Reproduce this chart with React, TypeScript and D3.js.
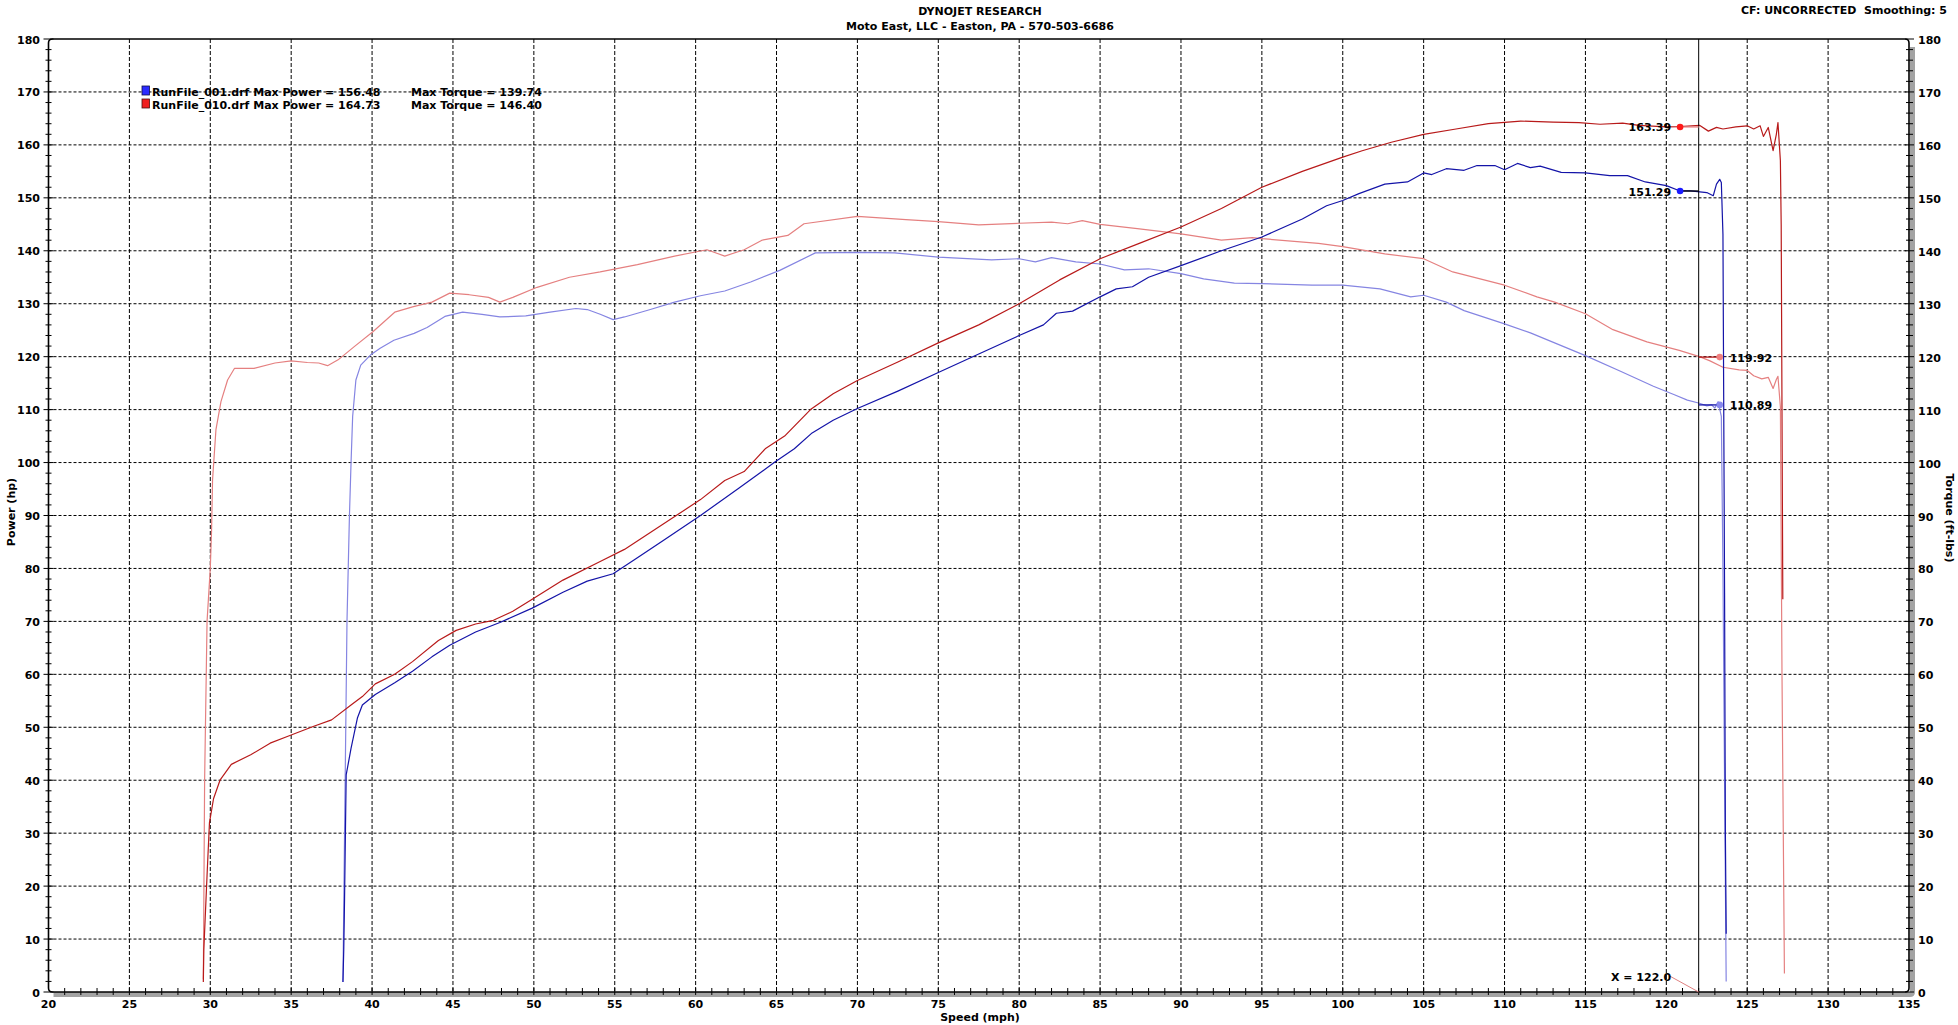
import React from 'react';
import * as d3 from 'd3';

type P = [number, number];

// ---- tick labels ----
const xTickValues: number[] = [20, 25, 30, 35, 40, 45, 50, 55, 60, 65, 70, 75, 80, 85, 90, 95, 100, 105, 110, 115, 120, 125, 130, 135];
const yTickValues: number[] = [0, 10, 20, 30, 40, 50, 60, 70, 80, 90, 100, 110, 120, 130, 140, 150, 160, 170, 180];

// ---- titles / legend ----
const titleLine1 = 'DYNOJET RESEARCH';
const titleLine2 = 'Moto East, LLC - Easton, PA - 570-503-6686';
const cornerText = 'CF: UNCORRECTED\u00a0\u00a0Smoothing: 5';
const legendNames = ['RunFile_001.drf Max Power = 156.48', 'RunFile_010.drf Max Power = 164.73'];
const legendTorque = ['Max Torque = 139.74', 'Max Torque = 146.40'];

// ---- cursor / markers ----
const cursorX = 122.0;
const powerMarkerX = 120.85;
const torqueMarkerX = 123.3;
const markerValues = { redPower: 163.39, bluePower: 151.29, redTorque: 119.92, blueTorque: 110.89 };

// ---- series (speed mph, value) ----
const bluePower: P[] = [
  [38.2, 1.9], [38.25, 8], [38.3, 17.7], [38.4, 41], [38.7, 46], [39.1, 51.8], [39.4, 54.2], [40.2, 56.2], [41.4, 58.4],
  [42.5, 60.6], [43.7, 63.3], [44.8, 65.5], [46.4, 68], [47.9, 69.8], [49.9, 72.5], [51.8, 75.5], [53.3, 77.6], [54.9, 79],
  [56.4, 82], [58, 85.3], [60.3, 90], [62.6, 95], [64.9, 100.1], [66.1, 102.6], [67.2, 105.6], [68.5, 108], [70, 110.2],
  [72.5, 113.5], [75, 117], [77.5, 120.5], [80, 124], [81.5, 126], [82.3, 128.2], [83.3, 128.6], [85, 131.3], [86, 132.8],
  [87, 133.2], [88, 135], [90, 137.2], [92.5, 140], [95, 142.6], [97.5, 146], [99, 148.5], [100, 149.5], [101, 150.8],
  [102.6, 152.6], [104, 153], [105, 154.7], [105.5, 154.4], [106.4, 155.5], [107.5, 155.2], [108.3, 156.1], [109.4, 156.1],
  [110, 155.3], [110.8, 156.5], [111.6, 155.7], [112.2, 156], [113.5, 154.8], [115, 154.7], [116.5, 154.2], [117.6, 154.2],
  [118.7, 153], [120, 152.3], [120.85, 151.3], [121.5, 151.3], [122.5, 151], [122.9, 150.4], [123.1, 152.6], [123.3, 153.5],
  [123.4, 152.9], [123.5, 143.1], [123.6, 75.4], [123.65, 30], [123.7, 11],
];

const blueTorque: P[] = [
  [38.2, 1.9], [38.3, 30], [38.45, 70], [38.6, 89.8], [38.7, 99.9], [38.8, 108.7], [39.0, 115.6], [39.3, 118.4], [39.9, 120.3],
  [40.5, 121.6], [41.35, 123.1], [42.6, 124.4], [43.4, 125.5], [44.5, 127.6], [45.6, 128.4], [46.8, 128], [47.9, 127.5],
  [49.5, 127.7], [51, 128.4], [52.6, 129.1], [53.3, 128.9], [54.1, 128], [54.9, 127], [55.6, 127.5], [57.2, 128.9],
  [58.7, 130.3], [60.3, 131.5], [61.8, 132.4], [63.4, 134.1], [65.2, 136.3], [67.4, 139.6], [70, 139.7], [72.3, 139.6],
  [75, 138.8], [78.3, 138.3], [80, 138.5], [81, 137.9], [82, 138.7], [83.5, 137.9], [85, 137.5], [86.5, 136.4], [88, 136.6],
  [90, 135.7], [91.4, 134.7], [93.3, 133.9], [95, 133.8], [98.1, 133.5], [100, 133.5], [102.3, 132.8], [104.2, 131.3],
  [105, 131.6], [106.4, 130.3], [107.5, 128.7], [110, 126.2], [111.6, 124.5], [115, 120.2], [117.2, 117.2], [119.2, 114.4],
  [120.5, 112.8], [121.3, 111.8], [122.05, 111.2], [122.5, 110.7], [122.8, 110.9], [123, 110.3], [123.2, 111.5],
  [123.4, 108.7], [123.5, 80], [123.6, 40], [123.7, 2],
];

const redPower: P[] = [
  [29.57, 1.9], [29.6, 8], [29.8, 22], [29.95, 32], [30.2, 36.5], [30.6, 40], [31.3, 43], [32.5, 44.8], [33.7, 47],
  [34.8, 48.3], [36.4, 50.2], [37.5, 51.4], [38.7, 54.2], [39.4, 55.8], [40.2, 58.2], [41.4, 60], [42.5, 62.4], [44.1, 66.4],
  [45.2, 68.3], [46.4, 69.5], [47.5, 70.2], [48.7, 71.9], [49.9, 74.2], [51.8, 77.8], [54.1, 81.3], [55.6, 83.6], [58, 88.4],
  [60.3, 93], [61.8, 96.6], [63, 98.3], [64.3, 102.6], [65.5, 105], [67.1, 110], [68.5, 113], [70, 115.5], [72.5, 119],
  [75, 122.6], [77.5, 126], [80, 130], [82.5, 134.5], [85, 138.5], [87.5, 141.5], [90, 144.5], [92.5, 148], [95, 152],
  [97.5, 155], [100, 157.7], [101.2, 158.9], [103, 160.5], [105, 162], [107, 163], [109, 164], [111, 164.5], [113, 164.3],
  [114.6, 164.2], [115.9, 163.9], [117.3, 164.1], [118.3, 163.7], [120, 163.4], [120.85, 163.45], [122.05, 163.7],
  [122.6, 162.6], [123.1, 163.3], [123.5, 163], [124.3, 163.4], [125, 163.6], [125.4, 163], [125.8, 163.6], [126, 161.6],
  [126.3, 163.3], [126.6, 158.9], [126.8, 162], [126.9, 164.2], [127.05, 157], [127.1, 145], [127.2, 74.2],
];

const redTorque: P[] = [
  [29.57, 2.4], [29.65, 40], [29.8, 70], [30.0, 80], [30.08, 87.3], [30.14, 96.7], [30.35, 106.2], [30.66, 111.5],
  [31.07, 115.6], [31.5, 117.8], [32.7, 117.8], [34, 118.8], [35, 119.2], [36, 118.9], [36.7, 118.8], [37.25, 118.3],
  [37.9, 119.4], [38.9, 121.9], [40.05, 124.7], [41.4, 128.4], [42.5, 129.4], [43.7, 130.3], [44.8, 132], [46, 131.7],
  [47.2, 131.2], [47.9, 130.3], [48.7, 131.2], [50.2, 133.1], [52.2, 135], [54.1, 136], [56.4, 137.4], [58.7, 139],
  [60.7, 140.2], [61.8, 139], [63, 140.2], [64.1, 142], [65.7, 142.9], [66.7, 145.1], [70, 146.5], [73, 145.9], [75, 145.5],
  [77.5, 144.9], [80, 145.2], [82, 145.4], [83, 145.1], [83.9, 145.7], [85, 145], [87.3, 144.2], [90, 143.2], [92.5, 142],
  [94.4, 142.5], [95, 142.3], [98.5, 141.4], [100, 140.8], [102.6, 139.4], [105, 138.5], [106.8, 136], [110, 133.5],
  [112, 131.3], [113.1, 130.3], [115, 128.1], [116.7, 125.1], [118.8, 122.8], [120.8, 121.2], [122.05, 120], [122.7, 119.2],
  [123.5, 118], [124.5, 117.5], [125, 117.4], [125.4, 116.4], [125.9, 115.8], [126.3, 116.1], [126.6, 114], [126.8, 115.7],
  [126.9, 116.3], [127.05, 110.5], [127.15, 60], [127.3, 3.5],
];

const W = 1958;
const H = 1025;
const FONT = '"DejaVu Sans", Verdana, sans-serif';

export default function App() {
  const x = d3.scaleLinear().domain([20, 135]).range([48.5, 1909]);
  const y = d3.scaleLinear().domain([0, 180]).range([992, 39]);
  const line = d3.line<P>().x((d) => x(d[0])).y((d) => y(d[1]));

  const x0 = x(20), x1 = x(135), y0 = y(180), y1 = y(0);
  const r = 4;
  const frame = `M${x0},${y0 + r} Q${x0},${y0} ${x0 + r},${y0} H${x1 - r} Q${x1},${y0} ${x1},${y0 + r} V${y1 - r} Q${x1},${y1} ${x1 - r},${y1} H${x0 + r} Q${x0},${y1} ${x0},${y1 - r} Z`;
  const shadow = `M${x0 + 5},${y1 + 2.5} H${x1 + 1} Q${x1 + 3.5},${y1 + 2.5} ${x1 + 3.5},${y1} V${y0 + 8}`;

  const minorX = d3.range(21, 135, 1);
  const minorY = d3.range(0, 181, 2);
  const gridX = xTickValues.filter((v) => v > 20 && v < 135);
  const gridY = yTickValues.filter((v) => v > 0 && v < 180);

  const cx = x(cursorX);
  const pmx = x(powerMarkerX);
  const tmx = x(torqueMarkerX);

  const textStyle: React.CSSProperties = { fontFamily: FONT, fontWeight: 'bold', fontSize: 11 };

  return (
    <svg width={W} height={H} style={{ position: 'absolute', left: 0, top: 0, display: 'block', background: '#fff' }}>
      <rect x={0} y={0} width={W} height={H} fill="#fff" />
      {/* titles */}
      <g style={textStyle} fill="#000">
        <text x={980} y={15} textAnchor="middle">{titleLine1}</text>
        <text x={980} y={30} textAnchor="middle">{titleLine2}</text>
        <text x={1947} y={13.5} textAnchor="end">{cornerText}</text>
      </g>

      {/* grid */}
      <g stroke="#000" strokeWidth={1} fill="none">
        {gridX.map((v) => (
          <line key={'gx' + v} x1={x(v)} x2={x(v)} y1={y0} y2={y1} strokeDasharray="4,2" />
        ))}
        {gridY.map((v) => (
          <line key={'gy' + v} x1={x0} x2={x1} y1={y(v)} y2={y(v)} strokeDasharray="3,2" />
        ))}
      </g>

      {/* shadow + frame */}
      <path d={shadow} stroke="#a3a3a3" strokeWidth={5} fill="none" />
      <path d={frame} stroke="#000" strokeWidth={1.6} fill="none" />

      {/* ticks */}
      <g stroke="#000" strokeWidth={1}>
        {minorX.map((v) => (
          <line key={'tx' + v} x1={x(v)} x2={x(v)} y1={y1 - 4} y2={y1 + 3} />
        ))}
        {minorY.map((v) => {
          const major = v % 10 === 0;
          return (
            <g key={'ty' + v}>
              <line x1={major ? x0 - 5 : x0 - 3} x2={major ? x0 + 5 : x0 + 3} y1={y(v)} y2={y(v)} />
              <line x1={major ? x1 - 4 : x1 - 3} x2={major ? x1 + 5 : x1 + 4} y1={y(v)} y2={y(v)} />
            </g>
          );
        })}
      </g>

      {/* tick labels */}
      <g style={textStyle} fill="#000">
        {xTickValues.map((v) => (
          <text key={'lx' + v} x={x(v)} y={1008} textAnchor="middle">{v}</text>
        ))}
        {yTickValues.map((v) => (
          <text key={'ly' + v} x={40} y={y(v) + 4.5} textAnchor="end">{v}</text>
        ))}
        {yTickValues.map((v) => (
          <text key={'ry' + v} x={1918} y={y(v) + 5} textAnchor="start">{v}</text>
        ))}
        <text x={980} y={1020.5} textAnchor="middle">Speed (mph)</text>
        <text transform="translate(14.5,512) rotate(-90)" textAnchor="middle">Power (hp)</text>
        <text transform="translate(1946,518) rotate(90)" textAnchor="middle">Torque (ft-lbs)</text>
      </g>

      {/* legend */}
      <g>
        <rect x={142} y={86} width={7.5} height={9} fill="#2b2bff" stroke="#10104a" strokeWidth={0.8} />
        <rect x={142} y={99} width={7.5} height={9} fill="#f02020" stroke="#4a1010" strokeWidth={0.8} />
        <g style={textStyle} fill="#000">
          <text x={152} y={95.5}>{legendNames[0]}</text>
          <text x={152} y={108.5}>{legendNames[1]}</text>
          <text x={411} y={95.5}>{legendTorque[0]}</text>
          <text x={411} y={108.5}>{legendTorque[1]}</text>
        </g>
      </g>

      {/* curves */}
      <g fill="none" strokeWidth={1.2} strokeLinejoin="round">
        <path d={line(redTorque) || ''} stroke="#e58080" />
        <path d={line(blueTorque) || ''} stroke="#8585e2" />
        <path d={line(redPower) || ''} stroke="#b81a1a" />
        <path d={line(bluePower) || ''} stroke="#1414a8" />
      </g>

      {/* cursor */}
      <line x1={cx} x2={cx} y1={y0} y2={y1} stroke="#000" strokeWidth={1} />
      <line x1={x(cursorX) - 29} y1={976} x2={cx} y2={y1} stroke="#e08080" strokeWidth={1} />
      <text x={1611} y={980.5} style={textStyle} fill="#000">X = {cursorX.toFixed(1)}</text>

      {/* markers */}
      <g strokeWidth={1.3}>
        <line x1={pmx} x2={cx} y1={y(markerValues.redPower)} y2={y(markerValues.redPower)} stroke="#e88080" />
        <line x1={pmx} x2={cx} y1={y(markerValues.bluePower)} y2={y(markerValues.bluePower)} stroke="#000" />
        <line x1={cx} x2={tmx} y1={y(markerValues.redTorque)} y2={y(markerValues.redTorque)} stroke="#b81a1a" />
        <line x1={cx} x2={tmx} y1={y(markerValues.blueTorque)} y2={y(markerValues.blueTorque)} stroke="#1414a8" />
      </g>
      <circle cx={pmx} cy={y(markerValues.redPower)} r={3.3} fill="#ff1a1a" />
      <circle cx={pmx} cy={y(markerValues.bluePower)} r={3.3} fill="#1a1aff" />
      <circle cx={tmx} cy={y(markerValues.redTorque)} r={3.3} fill="#f08080" />
      <circle cx={tmx} cy={y(markerValues.blueTorque)} r={3.3} fill="#8a8aee" />
      <g style={textStyle} fill="#000">
        <text x={pmx - 9} y={y(markerValues.redPower) + 4.5} textAnchor="end">{markerValues.redPower.toFixed(2)}</text>
        <text x={pmx - 9} y={y(markerValues.bluePower) + 5} textAnchor="end">{markerValues.bluePower.toFixed(2)}</text>
        <text x={tmx + 10} y={y(markerValues.redTorque) + 4.5}>{markerValues.redTorque.toFixed(2)}</text>
        <text x={tmx + 10} y={y(markerValues.blueTorque) + 4.5}>{markerValues.blueTorque.toFixed(2)}</text>
      </g>
    </svg>
  );
}
